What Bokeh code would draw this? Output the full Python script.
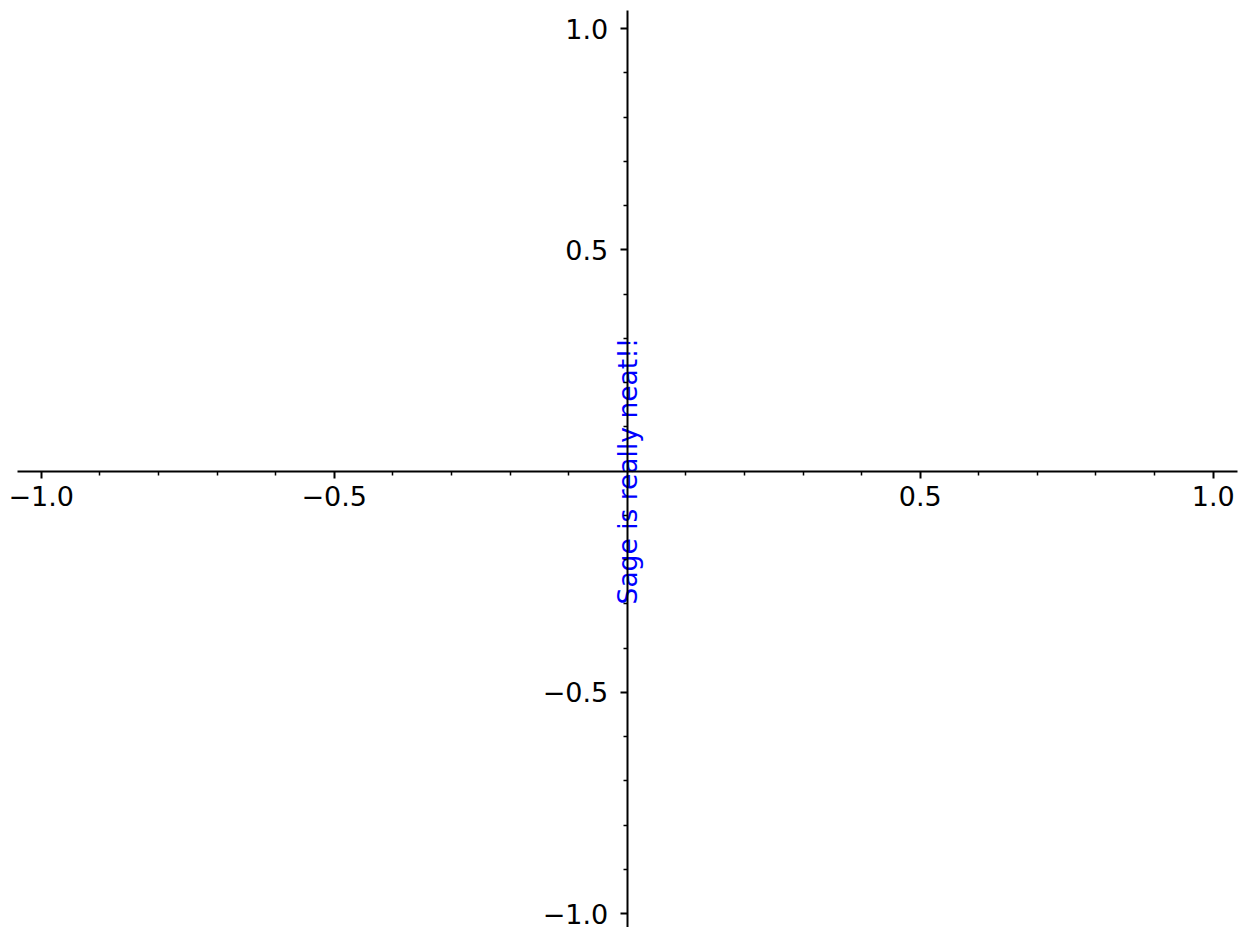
import math
from bokeh.plotting import figure
from bokeh.models import LinearAxis, FixedTicker, Range1d
from bokeh.core.properties import value
from bokeh.embed import file_html
from bokeh.resources import INLINE

# data
x_view = (-1.0695, 1.0483)
y_view = (-1.0316, 1.0633)
x_axis_extent = (-1.0404, 1.0415)
y_axis_extent = (-1.0316, 1.0407)
major_ticks = [-1.0, -0.5, 0.5, 1.0]
minor_ticks = [-0.9, -0.8, -0.7, -0.6, -0.4, -0.3, -0.2, -0.1,
               0.1, 0.2, 0.3, 0.4, 0.6, 0.7, 0.8, 0.9]
label_x = [0.0]
label_y = [0.0]
label_text = ["Sage is really neat!!"]

p = figure(width=1241, height=927, output_backend="svg", toolbar_location=None,
           x_range=Range1d(*x_view), y_range=Range1d(*y_view),
           x_axis_type=None, y_axis_type=None,
           min_border_left=0, min_border_right=0, min_border_top=0, min_border_bottom=0)
p.outline_line_color = None
p.grid.visible = False
p.background_fill_color = "white"
p.border_fill_color = "white"

def style(ax):
    ax.ticker = FixedTicker(ticks=major_ticks, minor_ticks=minor_ticks)
    ax.fixed_location = 0
    ax.axis_line_width = 2
    ax.axis_line_color = "black"
    ax.major_tick_line_width = 2
    ax.minor_tick_line_width = 1.5
    ax.major_tick_in = 0
    ax.major_tick_out = 7
    ax.minor_tick_in = 0
    ax.minor_tick_out = 4
    ax.major_label_text_font = "DejaVu Sans"
    ax.major_label_text_font_size = "27px"
    ax.major_label_text_color = "black"
    ax.major_label_text_line_height = 1.0
    ax.major_label_overrides = {-1.0: "\u22121.0", -0.5: "\u22120.5", 0.5: "0.5", 1.0: "1.0"}

xa = LinearAxis()
style(xa)
xa.bounds = x_axis_extent
xa.major_label_standoff = 8
ya = LinearAxis()
style(ya)
ya.bounds = y_axis_extent
ya.major_label_standoff = 12
p.add_layout(xa, "below")
p.add_layout(ya, "left")

p.text(x=label_x, y=label_y, text=label_text, angle=math.pi / 2,
       text_align="center", text_baseline="middle", text_color="blue",
       text_font=value("DejaVu Sans"), text_font_size="26.5px")

open("out.html", "w").write(file_html(p, INLINE))
